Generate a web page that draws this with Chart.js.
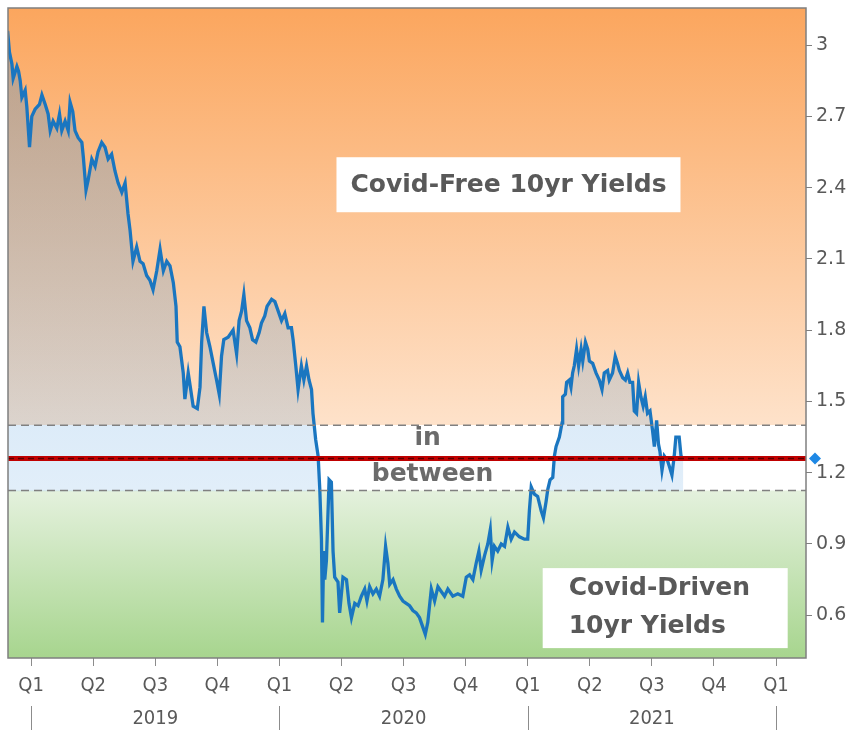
<!DOCTYPE html>
<html>
<head>
<meta charset="utf-8">
<script src="https://cdn.jsdelivr.net/npm/chart.js@4"></script>
<style>
  body { margin: 0; background: #fff; }
</style>
</head>
<body>
<canvas id="myChart" width="858" height="736"></canvas>
<script>
// months since Jan 2019 (0 = start of Q1 2019) and 10yr yield
const months = [
  -1.14, -1.05, -0.93, -0.87, -0.69, -0.61, -0.53, -0.45, -0.29, -0.21,
  -0.08, 0.03, 0.19, 0.40, 0.52, 0.68, 0.82, 0.92, 1.06, 1.24,
  1.37, 1.48, 1.64, 1.79, 1.88, 2.01, 2.12, 2.27, 2.45, 2.52,
  2.65, 2.75, 2.93, 3.09, 3.23, 3.41, 3.57, 3.72, 3.89, 4.05,
  4.20, 4.38, 4.54, 4.68, 4.78, 4.92, 5.10, 5.26, 5.41, 5.58,
  5.74, 5.89, 6.07, 6.23, 6.39, 6.55, 6.71, 6.87, 7.00, 7.06,
  7.19, 7.35, 7.43, 7.59, 7.71, 7.83, 8.03, 8.16, 8.24, 8.35,
  8.48, 8.64, 8.80, 8.96, 9.09, 9.20, 9.31, 9.52, 9.76, 9.93,
  10.05, 10.17, 10.28, 10.41, 10.57, 10.70, 10.86, 11.02, 11.13, 11.29,
  11.40, 11.62, 11.78, 11.94, 12.10, 12.26, 12.42, 12.58, 12.66, 12.79,
  12.90, 13.06, 13.18, 13.31, 13.43, 13.55, 13.62, 13.75, 13.87, 13.95,
  14.03, 14.08, 14.14, 14.19, 14.27, 14.40, 14.51, 14.59, 14.67, 14.83,
  14.91, 15.07, 15.24, 15.36, 15.48, 15.64, 15.80, 15.96, 16.12, 16.23,
  16.36, 16.52, 16.68, 16.84, 17.00, 17.13, 17.24, 17.33, 17.49, 17.65,
  17.81, 17.97, 18.13, 18.29, 18.45, 18.61, 18.77, 18.93, 19.05, 19.17,
  19.34, 19.50, 19.66, 19.82, 19.98, 20.14, 20.38, 20.62, 20.86, 21.03,
  21.19, 21.35, 21.51, 21.64, 21.75, 21.91, 22.07, 22.19, 22.28, 22.39,
  22.55, 22.72, 22.88, 23.04, 23.20, 23.36, 23.60, 23.84, 24.00, 24.08,
  24.17, 24.32, 24.48, 24.65, 24.76, 24.89, 24.97, 25.08, 25.21, 25.29,
  25.37, 25.53, 25.66, 25.69, 25.82, 25.88, 26.01, 26.09, 26.17, 26.25,
  26.36, 26.46, 26.58, 26.66, 26.79, 26.90, 26.98, 27.14, 27.30, 27.46,
  27.59, 27.70, 27.86, 27.94, 28.10, 28.23, 28.34, 28.43, 28.59, 28.72,
  28.83, 28.94, 29.07, 29.15, 29.26, 29.36, 29.47, 29.58, 29.68, 29.79,
  29.91, 30.03, 30.12, 30.23, 30.32, 30.39, 30.49, 30.60, 30.76, 30.87,
  30.97, 31.08, 31.16, 31.32, 31.41, 31.52
];
const yields = [
  3.06, 2.97, 2.92, 2.86, 2.91, 2.89, 2.85, 2.78, 2.81, 2.74,
  2.57, 2.70, 2.73, 2.75, 2.79, 2.75, 2.71, 2.64, 2.68, 2.65,
  2.71, 2.64, 2.68, 2.64, 2.76, 2.72, 2.64, 2.61, 2.59, 2.53,
  2.39, 2.43, 2.52, 2.49, 2.55, 2.59, 2.57, 2.52, 2.54, 2.47,
  2.42, 2.38, 2.42, 2.29, 2.22, 2.09, 2.15, 2.09, 2.08, 2.03,
  2.01, 1.97, 2.05, 2.14, 2.05, 2.09, 2.07, 2.00, 1.90, 1.75,
  1.73, 1.62, 1.51, 1.62, 1.55, 1.48, 1.47, 1.56, 1.75, 1.90,
  1.79, 1.73, 1.66, 1.59, 1.53, 1.69, 1.76, 1.77, 1.80, 1.70,
  1.84, 1.88, 1.95, 1.84, 1.81, 1.76, 1.75, 1.79, 1.83, 1.86,
  1.90, 1.93, 1.92, 1.88, 1.84, 1.87, 1.81, 1.81, 1.76, 1.65,
  1.55, 1.65, 1.59, 1.65, 1.59, 1.55, 1.45, 1.34, 1.27, 1.13,
  0.92, 0.57, 0.87, 0.75, 0.83, 1.17, 1.16, 0.87, 0.76, 0.74,
  0.61, 0.76, 0.75, 0.65, 0.59, 0.65, 0.64, 0.68, 0.71, 0.66,
  0.72, 0.69, 0.71, 0.68, 0.75, 0.89, 0.82, 0.73, 0.75, 0.71,
  0.68, 0.66, 0.65, 0.64, 0.62, 0.61, 0.59, 0.55, 0.52, 0.57,
  0.71, 0.66, 0.72, 0.70, 0.68, 0.71, 0.68, 0.69, 0.68, 0.76,
  0.77, 0.75, 0.82, 0.87, 0.79, 0.85, 0.90, 0.96, 0.83, 0.89,
  0.87, 0.90, 0.89, 0.97, 0.92, 0.95, 0.93, 0.92, 0.92, 1.04,
  1.14, 1.11, 1.10, 1.04, 1.01, 1.08, 1.13, 1.17, 1.18, 1.27,
  1.31, 1.35, 1.41, 1.52, 1.53, 1.58, 1.59, 1.56, 1.62, 1.65,
  1.72, 1.65, 1.72, 1.67, 1.75, 1.72, 1.67, 1.66, 1.62, 1.59,
  1.55, 1.62, 1.63, 1.59, 1.62, 1.69, 1.66, 1.63, 1.60, 1.59,
  1.62, 1.58, 1.58, 1.46, 1.45, 1.58, 1.52, 1.48, 1.52, 1.45,
  1.46, 1.38, 1.31, 1.42, 1.32, 1.29, 1.21, 1.27, 1.25, 1.22,
  1.19, 1.27, 1.35, 1.35, 1.27, 1.26
];

const quarterTicks = [0, 3, 6, 9, 12, 15, 18, 21, 24, 27, 30, 33, 36];
const quarterLabels = ["Q1", "Q2", "Q3", "Q4", "Q1", "Q2", "Q3", "Q4", "Q1", "Q2", "Q3", "Q4", "Q1"];
const yearLabels = ["2019", "2020", "2021"];
const yearStarts = [0, 12, 24, 36];
const yTicks = [0.6, 0.9, 1.2, 1.5, 1.8, 2.1, 2.4, 2.7, 3];
const yTickLabels = ["0.6", "0.9", "1.2", "1.5", "1.8", "2.1", "2.4", "2.7", "3"];

const upperBand = 1.40;
const lowerBand = 1.125;
const currentLevel = 1.26;
const xMin = -1.12, xMax = 37.45;
const yMin = 0.42, yMax = 3.156;

const grey = "#595959";
const condensed = "'Liberation Sans Narrow', 'DejaVu Sans Condensed', 'Liberation Sans', sans-serif";
const labelFont = "bold 25px 'DejaVu Sans', Verdana, sans-serif";

// area under the line: darker up top, fades out at the lower band
function areaFill(context) {
  const chart = context.chart;
  const a = chart.chartArea;
  if (!a) return "rgba(70,150,215,0.2)";
  const yLo = chart.scales.y.getPixelForValue(lowerBand);
  const g = chart.ctx.createLinearGradient(0, a.top, 0, a.bottom);
  const stop = (yLo - a.top) / (a.bottom - a.top);
  g.addColorStop(0, "rgba(60,140,210,0.34)");
  g.addColorStop(stop, "rgba(70,150,220,0.16)");
  g.addColorStop(Math.min(stop + 0.002, 1), "rgba(70,150,220,0)");
  g.addColorStop(1, "rgba(70,150,220,0)");
  return g;
}

// coloured zones behind the line
const zonesPlugin = {
  id: "zones",
  beforeDatasetsDraw(chart) {
    const { ctx, chartArea: a, scales } = chart;
    const yUp = scales.y.getPixelForValue(upperBand);
    const yLo = scales.y.getPixelForValue(lowerBand);
    ctx.save();
    let g = ctx.createLinearGradient(0, a.top, 0, yUp);
    g.addColorStop(0, "#fba65e");
    g.addColorStop(1, "#fee2ca");
    ctx.fillStyle = g;
    ctx.fillRect(a.left, a.top, a.width, yUp - a.top);
    ctx.fillStyle = "#ffffff";
    ctx.fillRect(a.left, yUp, a.width, yLo - yUp);
    g = ctx.createLinearGradient(0, yLo, 0, a.bottom);
    g.addColorStop(0, "#e4f1dd");
    g.addColorStop(1, "#a7d58e");
    ctx.fillStyle = g;
    ctx.fillRect(a.left, yLo, a.width, a.bottom - yLo);
    ctx.restore();
  },
};

// frame, labels, latest-value marker and year row
const overlayPlugin = {
  id: "overlay",
  afterDatasetsDraw(chart) {
    const { ctx, chartArea: a, scales } = chart;
    const x = scales.x, y = scales.y;
    ctx.save();

    ctx.strokeStyle = "#7f7f7f";
    ctx.lineWidth = 1.5;
    ctx.strokeRect(a.left, a.top, a.width, a.height);

    // text boxes
    ctx.fillStyle = "#ffffff";
    const bx1 = x.getPixelForValue(23.07), by1 = y.getPixelForValue(2.41);
    ctx.fillRect(bx1 - 172, by1 - 28, 344, 55);
    const bx2 = x.getPixelForValue(30.62), by2 = y.getPixelForValue(0.63);
    ctx.fillRect(bx2 - 122, by2 - 40, 245, 80);

    ctx.fillStyle = grey;
    ctx.font = labelFont;
    ctx.textBaseline = "middle";
    ctx.textAlign = "center";
    ctx.fillText("Covid-Free 10yr Yields", bx1, by1);
    ctx.textAlign = "left";
    ctx.fillText("Covid-Driven", bx2 - 96, by2 - 20);
    ctx.fillText("10yr Yields", bx2 - 96, by2 + 18);

    ctx.fillStyle = "#6b6b6b";
    ctx.textAlign = "center";
    ctx.fillText("in", x.getPixelForValue(19.16), y.getPixelForValue(1.345));
    ctx.fillText("between", x.getPixelForValue(19.4), y.getPixelForValue(1.194));

    // latest value diamond on the axis
    const dy = y.getPixelForValue(currentLevel);
    const dx = a.right + 9;
    ctx.fillStyle = "#1e88e5";
    ctx.beginPath();
    ctx.moveTo(dx, dy - 6);
    ctx.lineTo(dx + 6, dy);
    ctx.lineTo(dx, dy + 6);
    ctx.lineTo(dx - 6, dy);
    ctx.closePath();
    ctx.fill();

    // year row
    ctx.strokeStyle = "#8c8c8c";
    ctx.lineWidth = 1;
    yearStarts.forEach((m) => {
      const px = Math.round(x.getPixelForValue(m)) + 0.5;
      ctx.beginPath();
      ctx.moveTo(px, a.bottom + 48);
      ctx.lineTo(px, a.bottom + 72);
      ctx.stroke();
    });
    ctx.fillStyle = grey;
    ctx.font = "20px " + condensed;
    ctx.textAlign = "center";
    yearLabels.forEach((lbl, i) => {
      const px = x.getPixelForValue((yearStarts[i] + yearStarts[i + 1]) / 2);
      ctx.fillText(lbl, px, a.bottom + 61);
    });
    ctx.restore();
  },
};

const ctx = document.getElementById("myChart").getContext("2d");
new Chart(ctx, {
  type: "line",
  data: {
    datasets: [
      {
        label: "10yr yield",
        data: months.map((m, i) => ({ x: m, y: yields[i] })),
        borderColor: "#1a76c0",
        borderWidth: 3.3,
        backgroundColor: areaFill,
        fill: "start",
        pointRadius: 0,
        tension: 0,
        order: 3,
      },
      {
        label: "upper band",
        data: [{ x: xMin, y: upperBand }, { x: xMax, y: upperBand }],
        borderColor: "#808080",
        borderWidth: 1.5,
        borderDash: [8, 5],
        pointRadius: 0,
        order: 2,
      },
      {
        label: "lower band",
        data: [{ x: xMin, y: lowerBand }, { x: xMax, y: lowerBand }],
        borderColor: "#808080",
        borderWidth: 1.5,
        borderDash: [8, 5],
        pointRadius: 0,
        order: 2,
      },
      {
        label: "current",
        data: [{ x: xMin, y: currentLevel }, { x: xMax, y: currentLevel }],
        borderColor: "#c00000",
        borderWidth: 5,
        pointRadius: 0,
        order: 1,
      },
      {
        label: "current dash",
        data: [{ x: xMin, y: currentLevel }, { x: xMax, y: currentLevel }],
        borderColor: "#5a0000",
        borderWidth: 1.5,
        borderDash: [6, 4],
        pointRadius: 0,
        order: 0,
      },
    ],
  },
  options: {
    responsive: false,
    animation: false,
    layout: { padding: { left: 8, top: 8, right: 0, bottom: 0 } },
    plugins: {
      legend: { display: false },
      tooltip: { enabled: false },
    },
    scales: {
      x: {
        type: "linear",
        min: xMin,
        max: xMax,
        afterBuildTicks: (scale) => {
          scale.ticks = quarterTicks.map((v) => ({ value: v }));
        },
        afterFit: (scale) => {
          scale.height = 78;
          scale.paddingLeft = 0;
          scale.paddingRight = 0;
        },
        grid: { drawOnChartArea: false, tickLength: 8, color: "#8c8c8c" },
        border: { display: false },
        ticks: {
          autoSkip: false,
          maxRotation: 0,
          padding: 8,
          color: grey,
          font: { family: condensed, size: 20 },
          callback: (v, i) => quarterLabels[i],
        },
      },
      y: {
        position: "right",
        min: yMin,
        max: yMax,
        afterBuildTicks: (scale) => {
          scale.ticks = yTicks.map((v) => ({ value: v }));
        },
        afterFit: (scale) => {
          scale.width = 52;
          scale.paddingTop = 0;
          scale.paddingBottom = 0;
        },
        grid: { drawOnChartArea: false, tickLength: 6, color: "#7f7f7f" },
        border: { display: false },
        ticks: {
          padding: 4,
          color: grey,
          font: { family: "'DejaVu Sans', Verdana, sans-serif", size: 19 },
          callback: (v, i) => yTickLabels[i],
        },
      },
    },
  },
  plugins: [zonesPlugin, overlayPlugin],
});
</script>
</body>
</html>
